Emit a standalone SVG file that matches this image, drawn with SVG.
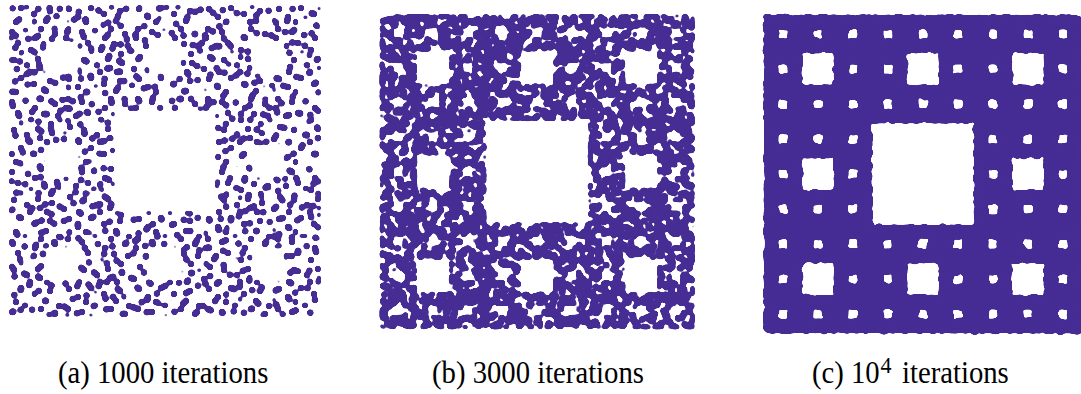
<svg xmlns="http://www.w3.org/2000/svg" xmlns:xlink="http://www.w3.org/1999/xlink" width="1081" height="394" viewBox="0 0 1081 394">
<style>
.lbl{font-family:"Liberation Serif","Times New Roman",serif;font-size:28.7px;fill:#000}
.hole{fill:#000}
.on{fill:#fff}
</style>
<defs>
  <filter id="goo" x="-5%" y="-5%" width="110%" height="110%" color-interpolation-filters="sRGB">
    <feGaussianBlur stdDeviation="1.8"/>
    <feComponentTransfer><feFuncA type="linear" slope="16" intercept="-1.45"/></feComponentTransfer>
  </filter>
  <filter id="rough" x="-3%" y="-3%" width="106%" height="106%" color-interpolation-filters="sRGB">
    <feTurbulence type="fractalNoise" baseFrequency="0.22" numOctaves="2" seed="7" result="n"/>
    <feDisplacementMap in="SourceGraphic" in2="n" scale="6" xChannelSelector="R" yChannelSelector="G" result="d"/>
    <feGaussianBlur in="d" stdDeviation="1.5"/>
    <feComponentTransfer><feFuncA type="linear" slope="16" intercept="-1.45"/></feComponentTransfer>
  </filter>
  <pattern id="P" patternUnits="userSpaceOnUse" width="70" height="70">
    <g fill="#452c94">
      <circle cx="5" cy="12" r="2"/><circle cx="18" cy="3" r="2"/><circle cx="31" cy="9" r="2"/><circle cx="47" cy="6" r="2"/>
      <circle cx="60" cy="15" r="2"/><circle cx="66" cy="4" r="2"/><circle cx="9" cy="27" r="2"/><circle cx="22" cy="20" r="2"/>
      <circle cx="38" cy="24" r="2"/><circle cx="52" cy="29" r="2"/><circle cx="63" cy="33" r="2"/><circle cx="3" cy="41" r="2"/>
      <circle cx="15" cy="38" r="2"/><circle cx="28" cy="45" r="2"/><circle cx="41" cy="39" r="2"/><circle cx="57" cy="46" r="2"/>
      <circle cx="67" cy="52" r="2"/><circle cx="11" cy="55" r="2"/><circle cx="24" cy="60" r="2"/><circle cx="35" cy="54" r="2"/>
      <circle cx="49" cy="58" r="2"/><circle cx="61" cy="64" r="2"/><circle cx="6" cy="67" r="2"/><circle cx="19" cy="48" r="2"/>
      <circle cx="44" cy="67" r="2"/><circle cx="32" cy="33" r="2"/><circle cx="55" cy="41" r="2"/><circle cx="27" cy="67" r="2"/>
      <circle cx="43" cy="16" r="2"/><circle cx="13" cy="17" r="2"/><circle cx="56" cy="21" r="2"/><circle cx="37" cy="63" r="2"/>
      <circle cx="65" cy="24" r="2"/><circle cx="48" cy="49" r="2"/>
    </g>
  </pattern>
  <pattern id="Q" patternUnits="userSpaceOnUse" width="66" height="66">
    <g fill="#452c94">
      <circle cx="4" cy="6" r="2"/><circle cx="16" cy="11" r="2"/><circle cx="29" cy="4" r="2"/><circle cx="41" cy="13" r="2"/>
      <circle cx="54" cy="7" r="2"/><circle cx="63" cy="18" r="2"/><circle cx="8" cy="22" r="2"/><circle cx="23" cy="26" r="2"/>
      <circle cx="35" cy="21" r="2"/><circle cx="48" cy="28" r="2"/><circle cx="59" cy="35" r="2"/><circle cx="3" cy="37" r="2"/>
      <circle cx="17" cy="40" r="2"/><circle cx="30" cy="36" r="2"/><circle cx="42" cy="44" r="2"/><circle cx="55" cy="50" r="2"/>
      <circle cx="12" cy="52" r="2"/><circle cx="25" cy="57" r="2"/><circle cx="38" cy="59" r="2"/><circle cx="50" cy="63" r="2"/>
      <circle cx="62" cy="58" r="2"/><circle cx="5" cy="63" r="2"/><circle cx="20" cy="31" r="2"/><circle cx="46" cy="36" r="2"/>
      <circle cx="33" cy="49" r="2"/><circle cx="60" cy="44" r="2"/><circle cx="14" cy="62" r="2"/><circle cx="27" cy="15" r="2"/>
      <circle cx="52" cy="19" r="2"/><circle cx="44" cy="52" r="2"/>
    </g>
  </pattern>
  <pattern id="la1" xlink:href="#P" patternTransform="translate(3 5)"/>
  <pattern id="la2" xlink:href="#Q" patternTransform="rotate(37) translate(11 -7)"/>
  <pattern id="lb1" xlink:href="#P" patternTransform="translate(17 29)"/>
  <pattern id="lb2" xlink:href="#Q" patternTransform="rotate(37) translate(-13 41)"/>
  <pattern id="lb3" xlink:href="#P" patternTransform="rotate(71) translate(23 -9)"/>
  <pattern id="lb4" xlink:href="#Q" patternTransform="rotate(113) translate(5 17)"/>
  <pattern id="lb5" xlink:href="#P" patternTransform="rotate(151) translate(-31 12)"/>
  <pattern id="lb6" xlink:href="#Q" patternTransform="rotate(23) translate(29 3)"/>

  <pattern id="a3" patternUnits="userSpaceOnUse" x="10.4" y="6.4" width="34.35" height="34.35"><rect class="hole" x="11.45" y="11.45" width="11.45" height="11.45"/></pattern>
  <pattern id="a2" patternUnits="userSpaceOnUse" x="10.4" y="6.4" width="103.05" height="103.05"><rect class="hole" x="34.35" y="34.35" width="34.35" height="34.35"/></pattern>
  <pattern id="b3" patternUnits="userSpaceOnUse" x="381" y="15.5" width="34.7" height="34.7"><rect class="hole" x="11.567" y="11.567" width="11.567" height="11.567"/></pattern>
  <pattern id="b2" patternUnits="userSpaceOnUse" x="381" y="15.5" width="104.1" height="104.1"><rect class="hole" x="34.7" y="34.7" width="34.7" height="34.7"/></pattern>
  <pattern id="c3" patternUnits="userSpaceOnUse" x="765.5" y="16.5" width="35" height="35"><rect class="hole" x="11.2" y="11.2" width="12.6" height="12.6"/></pattern>
  <pattern id="c2" patternUnits="userSpaceOnUse" x="765.5" y="16.5" width="105" height="105"><rect class="hole" x="35" y="35" width="35" height="35"/></pattern>

  <mask id="ma" maskUnits="userSpaceOnUse" x="0" y="0" width="1081" height="394">
    <rect class="on" x="10.4" y="6.4" width="309.15" height="309.15"/>
    <rect x="10.4" y="6.4" width="309.15" height="309.15" fill="url(#a3)"/>
    <rect x="10.4" y="6.4" width="309.15" height="309.15" fill="url(#a2)"/>
    <rect class="hole" x="113.45" y="109.45" width="103.05" height="103.05"/>
  </mask>
  <mask id="mb" maskUnits="userSpaceOnUse" x="0" y="0" width="1081" height="394">
    <rect class="on" x="381" y="15.5" width="312.3" height="312.3"/>
    <rect x="381" y="15.5" width="312.3" height="312.3" fill="url(#b3)"/>
    <rect x="381" y="15.5" width="312.3" height="312.3" fill="url(#b2)"/>
    <rect class="hole" x="485.1" y="119.6" width="104.1" height="104.1"/>
  </mask>
  <mask id="mc" maskUnits="userSpaceOnUse" x="0" y="0" width="1081" height="394">
    <rect class="on" x="765.5" y="16.5" width="315" height="315"/>
    <rect x="765.5" y="16.5" width="315" height="315" fill="url(#c3)"/>
    <rect x="765.5" y="16.5" width="315" height="315" fill="url(#c2)"/>
    <rect class="hole" x="870.5" y="121.5" width="105" height="105"/>
  </mask>
</defs>

<rect width="1081" height="394" fill="#fff"/>

<g id="panel-a">
  <g filter="url(#goo)">
    <g mask="url(#ma)">
      <rect x="5" y="1" width="320" height="320" fill="url(#la1)"/>
      <rect x="5" y="1" width="320" height="320" fill="url(#la2)"/>
    </g>
  </g>
  <text class="lbl" transform="translate(58 383) scale(1 1.08)">(a) 1000 iterations</text>
</g>

<g id="panel-b">
  <g filter="url(#goo)">
    <g mask="url(#mb)">
      <rect x="376" y="10" width="323" height="323" fill="url(#lb1)"/>
      <rect x="376" y="10" width="323" height="323" fill="url(#lb2)"/>
      <rect x="376" y="10" width="323" height="323" fill="url(#lb3)"/>
      <rect x="376" y="10" width="323" height="323" fill="url(#lb4)"/>
      <rect x="376" y="10" width="323" height="323" fill="url(#lb5)"/>
      <rect x="376" y="10" width="323" height="323" fill="url(#lb6)"/>
    </g>
  </g>
  <text class="lbl" transform="translate(432 383) scale(1 1.08)">(b) 3000 iterations</text>
</g>

<g id="panel-c">
  <g filter="url(#rough)">
    <g mask="url(#mc)">
      <rect x="760" y="11" width="321" height="325" fill="#452c94"/>
    </g>
  </g>
  <text class="lbl" transform="translate(812 383) scale(1 1.08)">(c) 10<tspan x="68.5" y="-9" font-size="22">4</tspan><tspan x="90" y="0">iterations</tspan></text>
</g>
</svg>
